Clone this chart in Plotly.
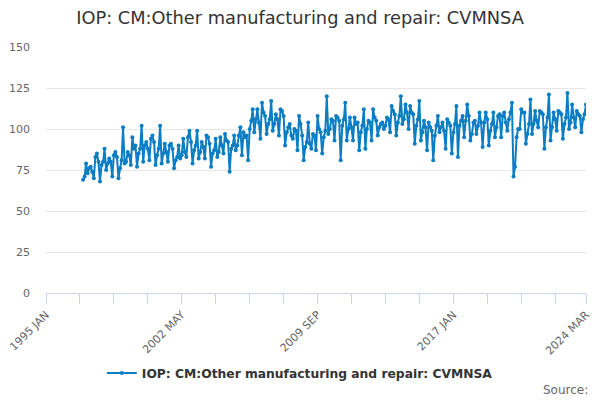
import pandas as pd
import plotly.graph_objects as go

# monthly index values (1997 JAN - 2024 MAR)
y1997 = [69, 71, 79, 73, 76, 77, 74, 70, 83, 85, 80, 68]
y1998 = [78, 80, 88, 75, 79, 82, 80, 71, 84, 86, 83, 70]
y1999 = [76, 81, 101, 79, 80, 86, 84, 78, 95, 88, 90, 77]
y2000 = [85, 88, 102, 80, 90, 92, 88, 81, 94, 96, 92, 78]
y2001 = [84, 88, 102, 79, 85, 91, 86, 80, 90, 91, 88, 76]
y2002 = [81, 83, 90, 82, 84, 94, 86, 83, 95, 99, 92, 79]
y2003 = [87, 90, 99, 82, 86, 92, 89, 82, 96, 95, 91, 77]
y2004 = [85, 87, 94, 83, 86, 95, 90, 85, 97, 93, 92, 74]
y2005 = [88, 90, 96, 87, 90, 96, 101, 84, 98, 95, 96, 81]
y2006 = [100, 105, 112, 98, 106, 112, 104, 94, 116, 110, 108, 97]
y2007 = [103, 106, 117, 99, 103, 109, 106, 96, 112, 111, 108, 90]
y2008 = [98, 101, 103, 96, 94, 100, 99, 87, 108, 103, 96, 81]
y2009 = [89, 92, 104, 91, 88, 97, 96, 87, 108, 100, 98, 85]
y2010 = [95, 99, 120, 97, 100, 106, 105, 93, 108, 107, 105, 81]
y2011 = [102, 106, 116, 93, 100, 107, 101, 93, 107, 103, 104, 87]
y2012 = [98, 102, 112, 88, 100, 105, 104, 93, 112, 107, 105, 96]
y2013 = [101, 103, 104, 100, 102, 107, 106, 98, 114, 111, 109, 96]
y2014 = [104, 108, 120, 103, 106, 115, 110, 100, 114, 110, 109, 91]
y2015 = [102, 106, 117, 93, 98, 105, 101, 87, 104, 101, 99, 81]
y2016 = [96, 102, 108, 98, 101, 104, 99, 88, 106, 104, 102, 85]
y2017 = [98, 103, 114, 83, 102, 105, 108, 95, 105, 115, 108, 93]
y2018 = [97, 104, 105, 97, 102, 110, 104, 89, 104, 110, 106, 90]
y2019 = [99, 103, 110, 95, 101, 108, 109, 95, 108, 110, 104, 99]
y2020 = [106, 110, 116, 71, 77, 95, 100, 100, 112, 110, 110, 91]
y2021 = [97, 103, 118, 97, 103, 111, 105, 101, 111, 110, 109, 88]
y2022 = [101, 107, 121, 93, 101, 110, 106, 99, 111, 110, 109, 94]
y2023 = [103, 107, 122, 100, 104, 115, 107, 101, 111, 109, 108, 98]
y2024 = [106, 109, 115]

values = (y1997 + y1998 + y1999 + y2000 + y2001 + y2002 + y2003 + y2004
          + y2005 + y2006 + y2007 + y2008 + y2009 + y2010 + y2011 + y2012
          + y2013 + y2014 + y2015 + y2016 + y2017 + y2018 + y2019 + y2020
          + y2021 + y2022 + y2023 + y2024)
months = pd.date_range("1997-01-01", periods=len(values), freq="MS")

# axis ticks every 22 months from 1995 JAN, labels every 88, plus the last month
tick_dates = list(pd.date_range("1995-01-01", "2024-03-01", freq="22MS")) + [pd.Timestamp("2024-03-01")]
label_map = {"1995-01": "1995 JAN", "2002-05": "2002 MAY", "2009-09": "2009 SEP",
             "2017-01": "2017 JAN", "2024-03": "2024 MAR"}
tick_text = [label_map.get(d.strftime("%Y-%m"), "") for d in tick_dates]

series_name = "IOP: CM:Other manufacturing and repair: CVMNSA"
blue = "#0b7dc3"

fig = go.Figure()
fig.add_trace(go.Scatter(
    x=months, y=values, mode="lines+markers", name=series_name,
    line=dict(color=blue, width=2), marker=dict(color=blue, size=4),
))

fig.update_layout(
    width=600, height=400,
    margin=dict(l=46, r=14, t=47, b=107, autoexpand=False),
    plot_bgcolor="white", paper_bgcolor="white",
    font=dict(family="DejaVu Sans", color="#333333"),
    title=dict(text=series_name, x=0.5, xanchor="center", y=0.955, yanchor="middle",
               font=dict(size=17.8, color="#333333")),
    showlegend=True,
    legend=dict(orientation="h", x=0.47, xanchor="center", y=-0.325, yanchor="middle",
                font=dict(size=12.3, color="#333333", family="DejaVu Sans, sans-serif", weight="bold")),
    annotations=[dict(text="Source:", xref="paper", yref="paper", x=1.0, y=-0.394,
                      xanchor="right", yanchor="middle", showarrow=False,
                      xshift=4, font=dict(size=12, color="#666666"))],
)
fig.update_yaxes(range=[0, 150], dtick=25, showgrid=True, gridcolor="#e6e6e6",
                 zeroline=False, automargin=False,
                 tickfont=dict(size=11, color="#666666"), ticklabelstandoff=15)
fig.update_xaxes(range=["1995-01-01", "2024-03-01"], tickmode="array",
                 tickvals=tick_dates, ticktext=tick_text, tickangle=-45,
                 showgrid=False, showline=True, linecolor="#ccd6eb", automargin=False,
                 ticks="outside", ticklen=10, tickcolor="#ccd6eb",
                 tickfont=dict(size=11, color="#666666"))

# page has a default 8px body margin, drop it so the chart sits at 0,0
fig.write_html("out.html", config={"displayModeBar": False},
               post_script="document.body.style.margin='0';")
